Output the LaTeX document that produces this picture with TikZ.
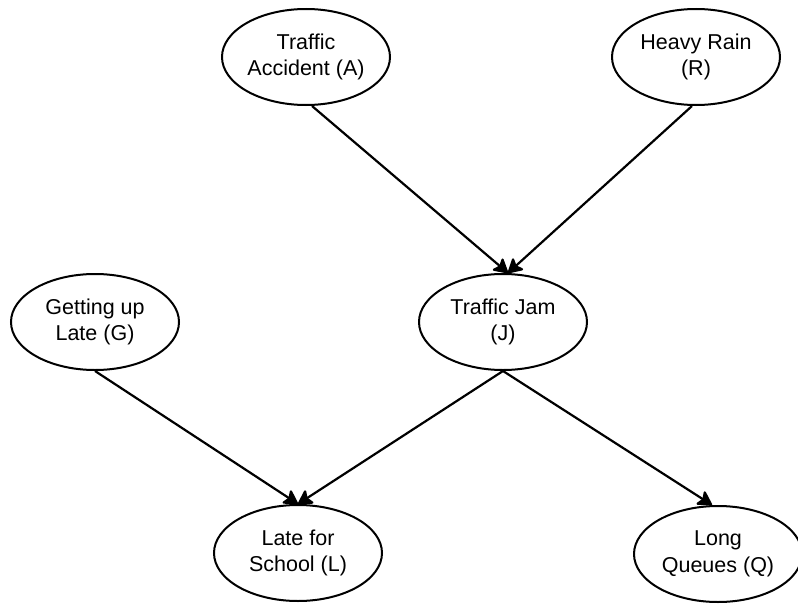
\documentclass[tikz,border=0pt]{standalone}
\usepackage{fontspec}
\setmainfont{Liberation Sans}
\usetikzlibrary{shapes.geometric,arrows.meta}
\tikzset{
  ev/.style={ellipse, draw=black, line width=2pt, fill=white, minimum width=168pt, minimum height=96pt, inner sep=0pt, align=center, font=\fontsize{21.5}{26.5}\selectfont},
  link/.style={line width=2.2pt, -{Stealth[length=16pt,width=18pt,inset=3.5pt,round]}}
}
\begin{document}
\begin{tikzpicture}[x=1pt,y=-1pt]
\useasboundingbox[fill=white] (0,0) rectangle (798,605);
\node[ev] (A) at (306,57) {Traffic\\Accident (A)};
\node[ev] (R) at (696,57) {Heavy Rain\\(R)};
\node[ev] (G) at (95,322) {Getting up\\Late (G)};
\node[ev] (J) at (503,322) {Traffic Jam\\(J)};
\node[ev] (L) at (298,553) {Late for\\School (L)};
\node[ev] (Q) at (718,554) {Long\\Queues (Q)};
\draw[link] ([xshift=6pt]A.south) -- ([xshift=5pt]J.north);
\draw[link] ([xshift=-4pt]R.south) -- ([xshift=5pt]J.north);
\draw[link] (G.south) -- (L.north);
\draw[link] (J.south) -- (L.north);
\draw[link] (J.south) -- ([xshift=-6pt]Q.north);
\end{tikzpicture}
\end{document}
